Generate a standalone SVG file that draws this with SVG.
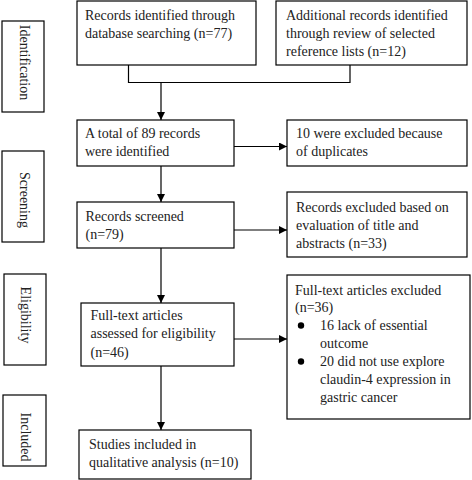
<svg xmlns="http://www.w3.org/2000/svg" width="472" height="480" viewBox="0 0 472 480">
<defs>
<style>
rect{fill:#fff;stroke:#000;stroke-width:1.2}
text{font-family:"Liberation Serif","Times New Roman",serif;font-size:14px;fill:#222}
.v{text-anchor:middle;dominant-baseline:central}
.c{fill:none;stroke:#000;stroke-width:1.2}
</style>
<marker id="ah" viewBox="0 0 10 10" refX="10" refY="5" markerWidth="8" markerHeight="8" markerUnits="userSpaceOnUse" orient="auto">
<path d="M0,0 L10,5 L0,10 Z" fill="#000"/>
</marker>
</defs>
<rect width="472" height="480" style="stroke:none"/>
<g id="stage-identification"><rect x="2" y="21" width="42" height="91"/><text class="v" transform="translate(24,62.5) rotate(90)">Identification</text></g>
<g id="stage-screening"><rect x="2" y="151" width="42" height="91"/><text class="v" transform="translate(24,200) rotate(90)">Screening</text></g>
<g id="stage-eligibility"><rect x="4" y="274" width="42" height="91"/><text class="v" transform="translate(25.5,315) rotate(90)">Eligibility</text></g>
<g id="stage-included"><rect x="3" y="395" width="43" height="71"/><text class="v" transform="translate(25,437) rotate(90)">Included</text></g>
<g id="n-database"><rect x="77" y="1" width="179" height="64"/><text x="85" y="19.5">Records identified through</text><text x="85" y="37.5">database searching (n=77)</text></g>
<g id="n-additional"><rect x="276" y="1" width="191" height="64"/><text x="286" y="19.5">Additional records identified</text><text x="286" y="37.5">through review of selected</text><text x="286" y="55.5">reference lists (n=12)</text></g>
<g id="n-total"><rect x="77" y="120" width="157" height="46"/><text x="85" y="138">A total of 89 records</text><text x="85" y="156">were identified</text></g>
<g id="n-duplicates"><rect x="287" y="120" width="180" height="46"/><text x="296" y="138">10 were excluded because</text><text x="296" y="156">of duplicates</text></g>
<g id="n-screened"><rect x="77" y="202" width="157" height="46"/><text x="85.5" y="221">Records screened</text><text x="85.5" y="239">(n=79)</text></g>
<g id="n-excluded-title"><rect x="287" y="192" width="180" height="65"/><text x="296" y="212">Records excluded based on</text><text x="296" y="230">evaluation of title and</text><text x="296" y="248">abstracts (n=33)</text></g>
<g id="n-fulltext"><rect x="81" y="303" width="153" height="63"/><text x="90.5" y="320">Full-text articles</text><text x="90.5" y="338">assessed for eligibility</text><text x="90.5" y="356.5">(n=46)</text></g>
<g id="n-fulltext-excluded"><rect x="287" y="275" width="183" height="144"/>
<text x="295" y="294.5">Full-text articles excluded</text><text x="295" y="312">(n=36)</text>
<circle cx="301" cy="325.5" r="3.2" fill="#000"/>
<text x="320" y="330">16 lack of essential</text><text x="320" y="348">outcome</text>
<circle cx="301" cy="361.5" r="3.2" fill="#000"/>
<text x="320" y="366">20 did not use explore</text><text x="320" y="384">claudin-4 expression in</text><text x="320" y="402">gastric cancer</text></g>
<g id="n-included"><rect x="79" y="430" width="172" height="49"/><text x="89" y="448.5">Studies included in</text><text x="89" y="466.5">qualitative analysis (n=10)</text></g>
<g id="connectors">
<polyline class="c" points="128.5,65 128.5,82.5 350,82.5 350,65"/>
<line class="c" x1="161" y1="82.5" x2="161" y2="120" marker-end="url(#ah)"/>
<line class="c" x1="234" y1="146.5" x2="287" y2="146.5" marker-end="url(#ah)"/>
<line class="c" x1="161" y1="166" x2="161" y2="202" marker-end="url(#ah)"/>
<line class="c" x1="234" y1="230" x2="287" y2="230" marker-end="url(#ah)"/>
<line class="c" x1="161" y1="248" x2="161" y2="303" marker-end="url(#ah)"/>
<line class="c" x1="234" y1="339" x2="287" y2="339" marker-end="url(#ah)"/>
<line class="c" x1="161" y1="366" x2="161" y2="430" marker-end="url(#ah)"/>
</g>
</svg>
